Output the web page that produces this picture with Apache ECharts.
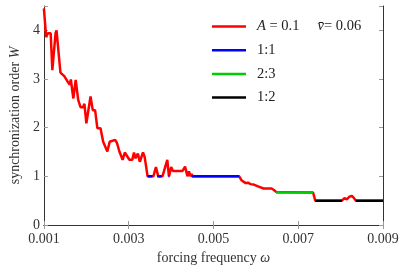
<!DOCTYPE html>
<html><head><meta charset="utf-8">
<script src="https://cdn.jsdelivr.net/npm/echarts@6/dist/echarts.min.js"></script>
<style>html,body{margin:0;padding:0;background:#fff}#c{width:407px;height:271px}</style>
</head><body><div id="c"></div>
<script>
// forcing frequency values (omega) and synchronization order W
const redOmega = [0.001000,0.001053,0.001092,0.001160,0.001199,0.001275,0.001298,0.001390,0.001481,0.001550,
  0.001612,0.001635,0.001695,0.001750,0.001809,0.001864,0.001924,0.001956,0.002002,0.002100,
  0.002153,0.002208,0.002261,0.002336,0.002398,0.002437,0.002497,0.002552,0.002680,0.002726,
  0.002781,0.002857,0.002909,0.002955,0.003017,0.003086,0.003125,0.003162,0.003217,0.003262,
  0.003299,0.003338,0.003377,0.003446,0.003583,0.003643,0.003698,0.003797,0.003911,0.003950,
  0.004003,0.004042,0.004271,0.004331,0.004386,0.004422,0.004461,0.004484,0.004510,0.005607,
  0.005660,0.005706,0.005761,0.005814,0.005876,0.005951,0.006066,0.006181,0.006371,0.006426,
  0.006479,0.007350,0.007402,0.008030,0.008090,0.008152,0.008205,0.008266,0.008319,0.008358,
  0.009000];
const redW = [4.45,3.86,3.94,3.94,3.18,3.94,4.00,3.13,3.06,2.96,
  2.88,2.99,2.60,2.98,2.57,2.42,2.42,2.49,2.09,2.64,
  2.36,2.36,1.99,1.99,1.71,1.68,1.51,1.71,1.75,1.68,
  1.51,1.34,1.49,1.49,1.34,1.34,1.49,1.37,1.47,1.30,
  1.30,1.49,1.40,1.00,1.00,1.19,1.00,1.00,1.34,1.00,
  1.19,1.11,1.11,1.20,1.00,1.10,1.00,1.05,1.00,1.00,
  0.92,0.89,0.86,0.87,0.84,0.83,0.79,0.75,0.75,0.72,
  0.68,0.667,0.50,0.50,0.55,0.53,0.58,0.60,0.55,0.50,
  0.50];
// locked plateaus: [start, end] ranges
const lock11 = [[0.003446,0.003560],[0.003675,0.003774],[0.003940,0.003960],[0.004380,0.004395],[0.004484,0.005607]];
const lock11W = 1;
const lock23 = [[0.006479,0.007350]];
const lock23W = 0.667;
const lock12 = [[0.007402,0.008030],[0.008358,0.009000]];
const lock12W = 0.5;
const xTicks = [0.001,0.003,0.005,0.007,0.009];
const yTicks = [0,1,2,3,4];

function segData(ranges, w){
  const out = [];
  ranges.forEach((r,i)=>{ if(i>0) out.push([ (r[0]+ranges[i-1][1])/2, '-']); out.push([r[0],w]); out.push([r[1],w]); });
  return out;
}
const FF = "'Liberation Serif','DejaVu Serif',serif";
const chart = echarts.init(document.getElementById('c'));
const axisCommon = {
  axisLine:{show:true, lineStyle:{color:'#333', width:1}},
  axisTick:{show:true, inside:true, length:4, lineStyle:{color:'#999'}},
  splitLine:{show:false}
};
const xBase = {type:'value', min:xTicks[0], max:xTicks[xTicks.length-1], interval:0.002};
const yBase = {type:'value', min:0, max:4.5, interval:1};
chart.setOption({
  animation:false,
  grid:{left:34, right:24, top:6, bottom:46},
  legend:{
    orient:'vertical', left:212, top:19, padding:0, itemWidth:34, itemHeight:2.5, itemGap:8.7, icon:'rect',
    data:['main','1:1','2:3','1:2'],
    formatter: n => n==='main' ? '{i|A} = 0.1     {i|v\u0304}= 0.06' : n,
    textStyle:{fontFamily:FF, fontSize:14.5, lineHeight:14, color:'#222', padding:[0,0,0,6],
      rich:{i:{fontStyle:'italic', fontFamily:FF, fontSize:14.5, lineHeight:14, color:'#222'}}}
  },
  xAxis:[
    Object.assign({}, xBase, axisCommon, {position:'bottom',
      axisLabel:{margin:7, fontFamily:FF, fontSize:14, color:'#333', formatter:v=>v.toFixed(3)},
      name:'forcing frequency {i|ω}', nameLocation:'middle', nameGap:22,
      nameTextStyle:{fontFamily:FF, fontSize:14, color:'#333', rich:{i:{fontStyle:'italic', fontFamily:FF, fontSize:14, color:'#333'}}}}),
    Object.assign({}, xBase, axisCommon, {position:'top', axisLabel:{show:false}})
  ],
  yAxis:[
    Object.assign({}, yBase, axisCommon, {position:'left',
      axisLabel:{margin:4, fontFamily:FF, fontSize:14, color:'#333', formatter:v=> (Math.abs(v-Math.round(v))<1e-9 && v<=4) ? String(Math.round(v)) : ''},
      name:'synchronization order {i|W}', nameLocation:'middle', nameGap:17,
      nameTextStyle:{fontFamily:FF, fontSize:14, color:'#333', rich:{i:{fontStyle:'italic', fontFamily:FF, fontSize:14, color:'#333'}}}}),
    Object.assign({}, yBase, axisCommon, {position:'right', axisLabel:{show:false}})
  ],
  series:[
    {name:'main', type:'line', symbol:'none', data: redOmega.map((x,i)=>[x, redW[i]]), lineStyle:{color:'#ff0000', width:2.5}, itemStyle:{color:'#ff0000'}},
    {name:'1:1', type:'line', symbol:'none', data: segData(lock11, lock11W), lineStyle:{color:'#0000ff', width:2.5}, itemStyle:{color:'#0000ff'}},
    {name:'2:3', type:'line', symbol:'none', data: segData(lock23, lock23W), lineStyle:{color:'#00cc00', width:2.5}, itemStyle:{color:'#00cc00'}},
    {name:'1:2', type:'line', symbol:'none', data: segData(lock12, lock12W), lineStyle:{color:'#000000', width:2.5}, itemStyle:{color:'#000000'}}
  ]
});
</script></body></html>
